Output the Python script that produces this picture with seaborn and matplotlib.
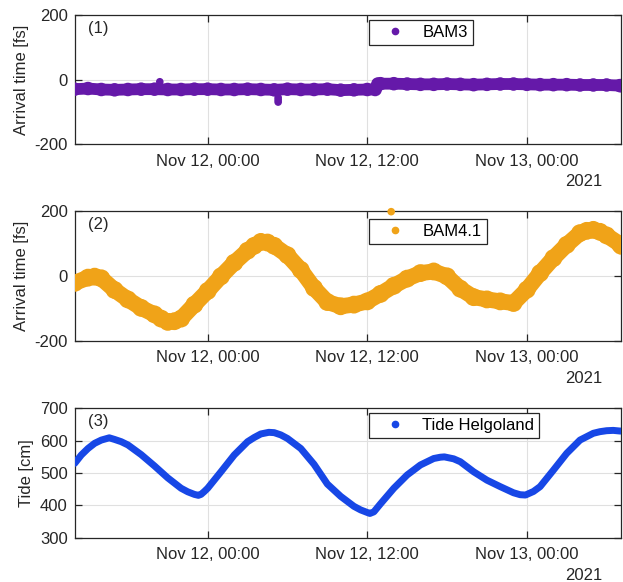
import numpy as np
import pandas as pd
import matplotlib
matplotlib.use("Agg")
import matplotlib.pyplot as plt
import matplotlib.dates as mdates
from matplotlib.lines import Line2D
import seaborn as sns

# ---------------- data ----------------
start_time = "2021-11-11 14:00"
end_time = "2021-11-13 07:05"

# hours after start_time
bam3_hours = [0, 1, 2, 3, 4, 5, 6, 7, 8, 9, 10, 11, 12, 13, 14, 15, 16, 17, 18, 19, 20,
              21, 22, 22.6, 22.8, 23, 24, 25, 26, 27, 28, 29, 30, 31, 32, 33, 34, 35, 36,
              37, 38, 39, 40, 41, 41.1]
bam3_fs = [-30, -28, -31, -32, -31, -30, -30, -31, -31, -30, -30, -31, -31, -30, -31, -32,
           -30, -31, -31, -30, -33, -32, -31, -31, -14, -13, -13, -14, -15, -15, -14, -15,
           -16, -15, -14, -14, -15, -16, -16, -16, -17, -17, -17, -19, -19]
bam3_out_hours = [6.4, 15.3, 15.3, 15.3]
bam3_out_fs = [-7, -56, -63, -70]

bam41_hours = [0, 1, 1.5, 2, 3, 4, 5, 6, 6.5, 7, 7.5, 8, 9, 10, 11, 12, 13, 13.5, 14, 14.5,
               15, 16, 17, 18, 19, 20, 21, 22, 23, 24, 25, 26, 27, 28, 29, 30, 31, 32, 33,
               34, 35, 36, 37, 38, 38.5, 39, 39.5, 40, 41, 41.1]
bam41_fs = [-22, -6, -3, -8, -44, -73, -99, -119, -132, -142, -140, -132, -89, -47, -2, 40,
            77, 92, 104, 102, 92, 63, 18, -38, -81, -94, -89, -79, -56, -31, -9, 8, 13, -2,
            -40, -66, -73, -79, -84, -43, 8, 54, 95, 131, 138, 141, 135, 124, 97, 92]
bam41_out_hours = [23.8]
bam41_out_fs = [197]

tide_hours = [0, 0.5, 1, 1.5, 2, 2.6, 3, 3.5, 4, 5, 6, 7, 8, 8.5, 9, 9.3, 9.5, 9.75, 10, 11,
              12, 13, 13.5, 14, 14.6, 15, 15.5, 16, 17, 18, 19, 20, 21, 21.5, 22, 22.2, 22.5,
              23, 24, 25, 26, 27, 27.5, 27.8, 28.5, 29, 30, 31, 32, 33, 33.5, 33.9, 34.5, 35,
              36, 37, 38, 39, 39.5, 40, 40.5, 41, 41.1]
tide_cm = [530, 556, 576, 592, 602, 609, 604, 597, 587, 557, 522, 485, 453, 442, 434, 431,
           434, 443, 453, 504, 556, 597, 610, 621, 626, 625, 618, 607, 576, 527, 466, 428,
           397, 386, 378, 375, 380, 405, 453, 494, 525, 545, 549, 550, 544, 535, 504, 478,
           458, 439, 433, 432, 443, 458, 509, 561, 602, 623, 628, 631, 632, 630, 630]

series_names = ["BAM3", "BAM4.1", "Tide Helgoland"]
panel_tags = ["(1)", "(2)", "(3)"]
y_labels = ["Arrival time [fs]", "Arrival time [fs]", "Tide [cm]"]
year_label = "2021"

# ---------------- style ----------------
sns.set_style("white")
plt.rcParams["font.family"] = ["Liberation Sans", "DejaVu Sans"]
plt.rcParams["font.size"] = 12
dark = "#262626"

colors = ["#6519A9", "#F0A318", "#1747E6"]

fig = plt.figure(figsize=(6.23, 5.82), dpi=100)
left, width = 74.7 / 623, (621 - 74.7) / 623
boxes = [(144, 129), (340.7, 130), (537.7, 129.3)]
axes = [fig.add_axes([left, 1 - b / 582, width, h / 582]) for b, h in boxes]

t0 = pd.Timestamp(start_time)
t1 = pd.Timestamp(end_time)


def to_time(hours):
    return t0 + pd.to_timedelta(np.asarray(hours, dtype=float), unit="h")


panels = [
    (bam3_hours, bam3_fs, bam3_out_hours, bam3_out_fs, 8.5, 95, (-200, 200), [-200, 0, 200]),
    (bam41_hours, bam41_fs, bam41_out_hours, bam41_out_fs, 11.5, 165, (-200, 200), [-200, 0, 200]),
    (tide_hours, tide_cm, [], [], 5.0, 0, (300, 700), [300, 400, 500, 600, 700]),
]
legend_tops = [0.961, 0.936, 0.967]

for i, (ax, (hrs, vals, oh, ov, lw, ms, ylim, yticks)) in enumerate(zip(axes, panels)):
    df = pd.DataFrame({"time": to_time(hrs), "value": vals})
    sns.lineplot(data=df, x="time", y="value", ax=ax, color=colors[i], lw=lw,
                 solid_capstyle="round", solid_joinstyle="round",
                 estimator=None, sort=False, legend=False, zorder=3)
    if ms:
        sns.scatterplot(data=df, x="time", y="value", ax=ax, color=colors[i], s=ms,
                        edgecolor="none", legend=False, zorder=3)
    if len(oh):
        dfo = pd.DataFrame({"time": to_time(oh), "value": ov})
        sns.scatterplot(data=dfo, x="time", y="value", ax=ax, color=colors[i], s=30,
                        edgecolor="none", legend=False, zorder=4, clip_on=False)

    ax.set_xlim(t0, t1)
    ax.set_ylim(*ylim)
    ax.set_yticks(yticks)
    ax.set_yticklabels([str(v) for v in yticks])
    ax.xaxis.set_major_locator(mdates.HourLocator(byhour=[0, 12]))
    ax.xaxis.set_major_formatter(mdates.DateFormatter("%b %d, %H:%M"))
    ax.set_xlabel("")
    ax.set_ylabel(y_labels[i], color=dark, labelpad=4)

    ax.grid(True, color="#E0E0E0", lw=0.8, zorder=0)
    ax.set_axisbelow(True)
    for sp in ax.spines.values():
        sp.set_color(dark)
        sp.set_linewidth(0.9)
        sp.set_visible(True)
    ax.tick_params(axis="both", which="major", direction="in", length=5, width=0.9,
                   colors=dark, labelcolor=dark, labelsize=12,
                   top=True, right=True, left=True, bottom=True)
    ax.tick_params(axis="x", pad=7)
    ax.tick_params(axis="y", pad=5)

    ax.text(0.024, 0.955, panel_tags[i], transform=ax.transAxes, ha="left", va="top",
            fontsize=12, color=dark)
    ax.text(0.965, -38 / 129, year_label, transform=ax.transAxes, ha="right",
            va="center", fontsize=12, color=dark)

    handle = Line2D([0], [0], marker="o", ls="none", color=colors[i], markersize=4.5)
    leg = ax.legend(handles=[handle], labels=[series_names[i]], loc="upper left",
                    bbox_to_anchor=(0.539, legend_tops[i]), frameon=True, fancybox=False,
                    framealpha=1, edgecolor=dark, handlelength=2.5, handletextpad=0.4,
                    borderpad=0.3, borderaxespad=0, fontsize=12)
    leg.get_frame().set_linewidth(0.9)
    for txt in leg.get_texts():
        txt.set_color("black")

fig.savefig("out.png", dpi=100)
